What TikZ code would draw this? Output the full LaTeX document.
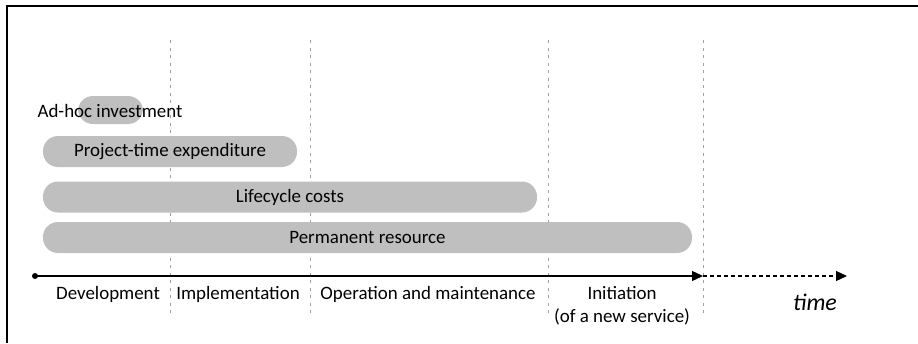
\documentclass[tikz,border=0pt]{standalone}
\usepackage{fontspec}
\setmainfont{Carlito}
\usetikzlibrary{arrows.meta}
\definecolor{barg}{HTML}{BFBFBF}
\definecolor{sepg}{HTML}{A0A0A0}
\begin{document}
\begin{tikzpicture}[x=1bp,y=-1bp,
 bar/.style={fill=barg, draw=none, rounded corners=15bp, inner sep=0pt, minimum height=31bp, font=\fontsize{19}{22}\selectfont},
 lbl/.style={font=\fontsize{19}{23}\selectfont, inner sep=0pt, align=center},
 sepline/.style={draw=sepg, dash pattern=on 3bp off 4.5bp, line width=1bp},
 axis/.style={line width=1.3bp, -{Triangle[length=11bp,width=10bp]}}]
\useasboundingbox (0,0) rectangle (918,343);
\draw[line width=1.3bp] (7,343) -- (7,6) -- (918,6);
% separators
\foreach \x in {170,310,548,703} \draw[sepline] (\x,40) -- (\x,315);
% bars
\node[bar, minimum width=65bp, minimum height=28bp] (adhocbar) at (110.5,110) {};
\node[lbl] (adhoc) at (110,111) {Ad-hoc investment};
\node[bar, minimum width=254bp] (proj) at (170,151.5) {Project-time expenditure};
\node[bar, minimum width=494bp] (life) at (290,197) {Lifecycle costs};
\node[bar, minimum width=649bp] (perm) at (367.5,237.5) {Permanent resource};
% timeline
\coordinate (t0) at (35,276);
\coordinate (t1) at (703,276);
\coordinate (t2) at (847,276);
\fill (t0) circle (3bp);
\draw[axis] (t0) -- (t1);
\draw[axis, line width=1.1bp, dash pattern=on 4bp off 3bp] (t1) -- (t2);
% phase labels
\node[lbl] (dev) at (108,294) {Development};
\node[lbl] (impl) at (238,294) {Implementation};
\node[lbl] (op) at (428,294) {Operation and maintenance};
\node[lbl] (init) at (622,305.5) {Initiation\\(of a new service)};
\node[lbl, font=\fontsize{24}{28}\selectfont\itshape] (time) at (815,302) {time};
\end{tikzpicture}
\end{document}
